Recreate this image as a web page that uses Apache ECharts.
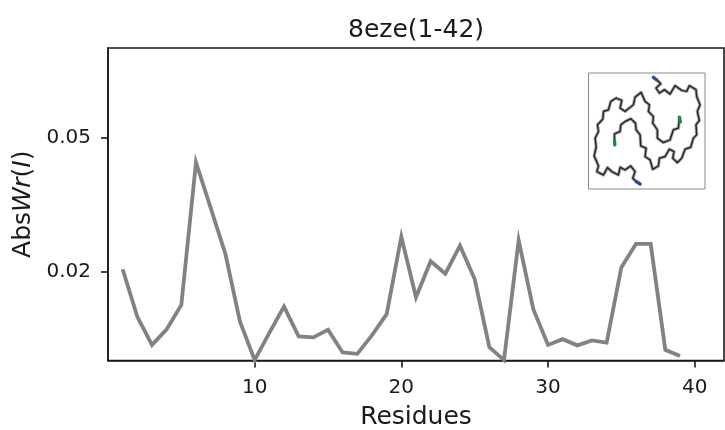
<!DOCTYPE html>
<html><head><meta charset="utf-8">
<style>html,body{margin:0;padding:0;background:#fff}#c{width:725px;height:430px}</style>
<script src="https://cdn.jsdelivr.net/npm/echarts@6/dist/echarts.min.js"></script>
</head><body><div id="c"></div>
<script>
const residues = [1,2,3,4,5,6,7,8,9,10,11,12,13,14,15,16,17,18,19,20,21,22,23,24,25,26,27,28,29,30,31,32,33,34,35,36,37,38,39];
const absWr = [0.0205,0.0098,0.0035,0.0070,0.0125,0.0445,0.0343,0.0240,0.0087,0.0001,0.0062,0.0121,0.0054,0.0052,0.0069,0.0018,0.0015,0.0057,0.0104,0.0278,0.0142,0.0223,0.0195,0.0258,0.0183,0.0030,0.0001,0.0270,0.0115,0.0035,0.0048,0.0034,0.0045,0.0040,0.0209,0.0262,0.0262,0.0024,0.0010];
const yTicks = [0.02,0.05];
const xTicks = [10,20,30,40];
const chainA = [[262,62],[272,72],[258,85],[268,100],[283,90],[300,103],[315,78],[335,92],[350,95],[358,78],[378,90],[380,110],[390,135],[382,155],[388,182],[378,195],[380,225],[370,235],[362,262],[345,268],[335,295],[322,308],[308,295],[312,275],[298,268],[285,290],[268,295],[265,318],[248,328],[240,300],[225,290],[228,265],[212,258],[210,225],[198,210],[196,190],[182,177],[165,185],[152,195],[150,215],[133,222],[133,240]];
const chainB = [[198,365],[188,355],[195,335],[182,318],[165,330],[150,322],[145,345],[125,335],[112,323],[100,345],[80,335],[85,318],[72,288],[78,262],[75,235],[85,215],[82,195],[98,178],[100,155],[115,150],[122,125],[138,115],[155,122],[150,145],[165,155],[190,135],[195,112],[213,98],[225,125],[238,135],[235,155],[250,170],[248,190],[262,210],[262,235],[280,248],[300,240],[310,210],[325,205],[328,175]];
const capsBlue = [[[250,53],[260,61]],[[210,372],[199,365]]];
const capsGreen = [[[133,242],[134,255]],[[328,172],[331,186]]];

const font = 'DejaVu Sans';
const ink = '#1a1a1a';
function chainSeries(pts, color, width, opacity, z){
  return {type:'line', xAxisIndex:1, yAxisIndex:1, data:pts, showSymbol:false, silent:true, z:z,
    lineStyle:{color:color,width:width,opacity:opacity,join:'round',cap:'round'}, animation:false};
}
const chart = echarts.init(document.getElementById('c'), null, {renderer:'canvas'});
chart.setOption({
  animation:false,
  backgroundColor:'#fff',
  textStyle:{fontFamily:font},
  title:{text:'8eze(1-42)', left:343, top:13,
    textStyle:{fontFamily:font,fontSize:25,fontWeight:'normal',color:ink}},
  grid:[
    {left:108,top:48,width:616,height:312.5,outerBoundsMode:'none',show:true,borderColor:ink,borderWidth:1.6,backgroundColor:'transparent'},
    {left:588.5,top:73,width:116.5,height:116,outerBoundsMode:'none',show:true,borderColor:'#8a8a8a',borderWidth:1,backgroundColor:'#fff',z:5}
  ],
  xAxis:[
    {type:'value',gridIndex:0,min:0,max:42,interval:10,
     name:'Residues',nameLocation:'middle',nameGap:44,
     nameTextStyle:{fontFamily:font,fontSize:25,color:ink},
     axisLine:{show:true,onZero:false,lineStyle:{color:ink,width:1.6}},
     axisTick:{show:true,length:7,customValues:xTicks,lineStyle:{color:ink,width:1.6}},
     axisLabel:{show:true,customValues:xTicks,fontFamily:font,fontSize:20,color:ink,margin:17,formatter:v=>String(v)},
     splitLine:{show:false}},
    {type:'value',gridIndex:1,min:55,max:405,show:false,splitLine:{show:false}}
  ],
  yAxis:[
    {type:'value',gridIndex:0,min:0,max:0.0702,
     name:'{t|Abs}{i|Wr}{t|(}{i|I}{t|)}',nameLocation:'middle',nameGap:69,nameRotate:90,
     nameTextStyle:{rich:{t:{fontFamily:font,fontSize:25,color:ink},i:{fontFamily:font,fontStyle:'italic',fontSize:25,color:ink}}},
     axisLine:{show:true,onZero:false,lineStyle:{color:ink,width:1.6}},
     axisTick:{show:true,length:7,customValues:yTicks,lineStyle:{color:ink,width:1.6}},
     axisLabel:{show:true,customValues:yTicks,fontFamily:font,fontSize:20,color:ink,margin:17,formatter:v=>v.toFixed(2)},
     splitLine:{show:false}},
    {type:'value',gridIndex:1,min:40,max:387,inverse:true,show:false,splitLine:{show:false}}
  ],
  series:[
    {type:'line',xAxisIndex:0,yAxisIndex:0,data:residues.map((r,i)=>[r,absWr[i]]),showSymbol:false,silent:true,z:3,
     clip:false,lineStyle:{color:'#858085',width:3.8,join:'miter'}},
    chainSeries(chainA,'#8f8f8f',3.4,0.7,6),
    chainSeries(chainB,'#8f8f8f',3.4,0.7,6),
    chainSeries(chainA,'#262626',1.5,1,7),
    chainSeries(chainB,'#262626',1.5,1,7),
    ...capsBlue.map(p=>chainSeries(p,'#2f4a9c',3.4,1,8)),
    ...capsGreen.map(p=>chainSeries(p,'#1c8a45',3.4,1,8))
  ]
});
</script></body></html>
